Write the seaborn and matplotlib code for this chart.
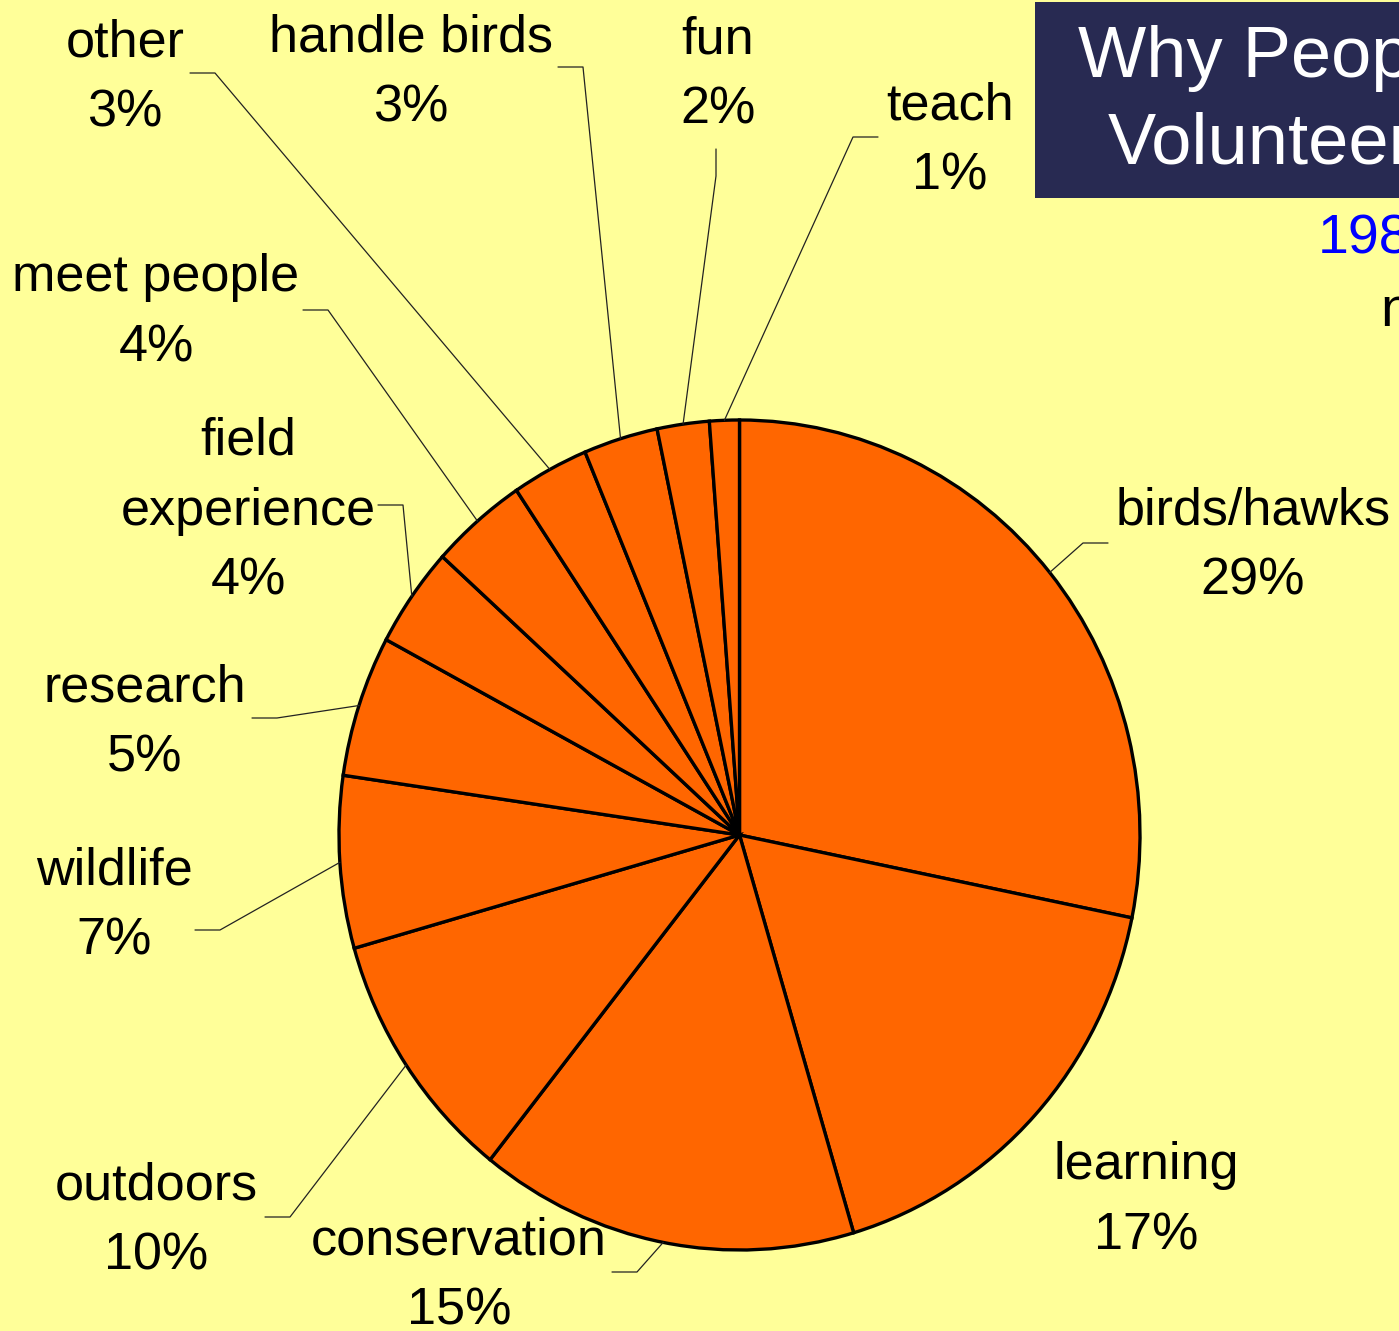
import numpy as np
import matplotlib
matplotlib.use("Agg")
import matplotlib.pyplot as plt
import seaborn as sns

# ---- data ----
categories = ["birds/hawks", "learning", "conservation", "outdoors", "wildlife",
              "research", "field\nexperience", "meet people", "other",
              "handle birds", "fun", "teach"]
values = [28.2, 17.2, 15.3, 9.9, 6.7, 5.5, 3.9, 3.9, 3.1, 3.0, 2.1, 1.2]
pct_labels = ["29%", "17%", "15%", "10%", "7%", "5%", "4%", "4%", "3%", "3%", "2%", "1%"]

sns.set_style("white")
plt.rcParams['font.family'] = ["Liberation Sans", "DejaVu Sans"]

BG = "#FFFF99"
W, H = 1399, 1331
fig = plt.figure(figsize=(W / 100, H / 100), dpi=100)
fig.patch.set_facecolor(BG)

# pie axes: x in pixels, y scaled so the pie is slightly taller than wide
RX, RY = 400.5, 415.0
CX, CY = 739.5, 835.0
k = RX / RY
axp = fig.add_axes([0, 0, 1, 1])
axp.set_facecolor(BG)
wedges, _ = axp.pie(values, colors=["#FF6600"] * len(values), startangle=-90,
                    counterclock=True, radius=RX, center=(CX, CY * k),
                    wedgeprops=dict(edgecolor="black", linewidth=2.4))
axp.set_aspect("auto")
axp.set_xlim(0, W)
axp.set_ylim(H * k, 0)
axp.axis("off")

# overlay axes in pixel coordinates for labels
ax = fig.add_axes([0, 0, 1, 1])
ax.set_xlim(0, W)
ax.set_ylim(H, 0)
ax.patch.set_alpha(0)
ax.axis("off")

# layout: (text center x, first-line center y, elbow points)
layout = {
    "birds/hawks": (1253, 511, [(1108, 543), (1083, 543)]),
    "learning": (1146, 1166, None),
    "conservation": (459, 1241, [(612, 1272), (637, 1272)]),
    "outdoors": (156, 1186, [(265, 1217), (290, 1217)]),
    "wildlife": (114, 871, [(195, 930), (220, 930)]),
    "research": (145, 688, [(252, 718), (277, 718)]),
    "field\nexperience": (248, 441, [(378, 505), (403, 505)]),
    "meet people": (156, 278, [(303, 310), (328, 310)]),
    "other": (125, 43, [(190, 73), (215, 73)]),
    "handle birds": (411, 38, [(558, 67), (583, 67)]),
    "fun": (718, 40, [(716, 149), (716, 176)]),
    "teach": (950, 106, [(878, 137), (853, 137)]),
}

LINE = 70  # line spacing in px
FS = 37.5
for w, cat, pl in zip(wedges, categories, pct_labels):
    x, y, elbow = layout[cat]
    lines = cat.split("\n") + [pl]
    for i, t in enumerate(lines):
        ax.text(x, y + i * LINE, t, ha="center", va="center", fontsize=FS,
                color="black")
    if elbow is not None:
        th = np.deg2rad((w.theta1 + w.theta2) / 2)
        ex = CX + RX * np.cos(th)
        ey = CY + RY * np.sin(th)
        xs = [elbow[0][0], elbow[1][0], ex]
        ys = [elbow[0][1], elbow[1][1], ey]
        ax.plot(xs, ys, color="#222222", lw=0.9)

# title box (cut off at the right edge, as in the reference)
ax.add_patch(plt.Rectangle((1035, 2), 400, 196, facecolor="#282A52", edgecolor="none"))
ax.text(1078, 58, "Why People", ha="left", va="center", fontsize=52, color="white")
ax.text(1108, 145, "Volunteer", ha="left", va="center", fontsize=52, color="white")
ax.text(1318, 240, "1988", ha="left", va="center", fontsize=40, color="#0000FF")
ax.text(1380, 312, "n", ha="left", va="center", fontsize=40, color="black")

fig.savefig("out.png", dpi=100, facecolor=BG)
